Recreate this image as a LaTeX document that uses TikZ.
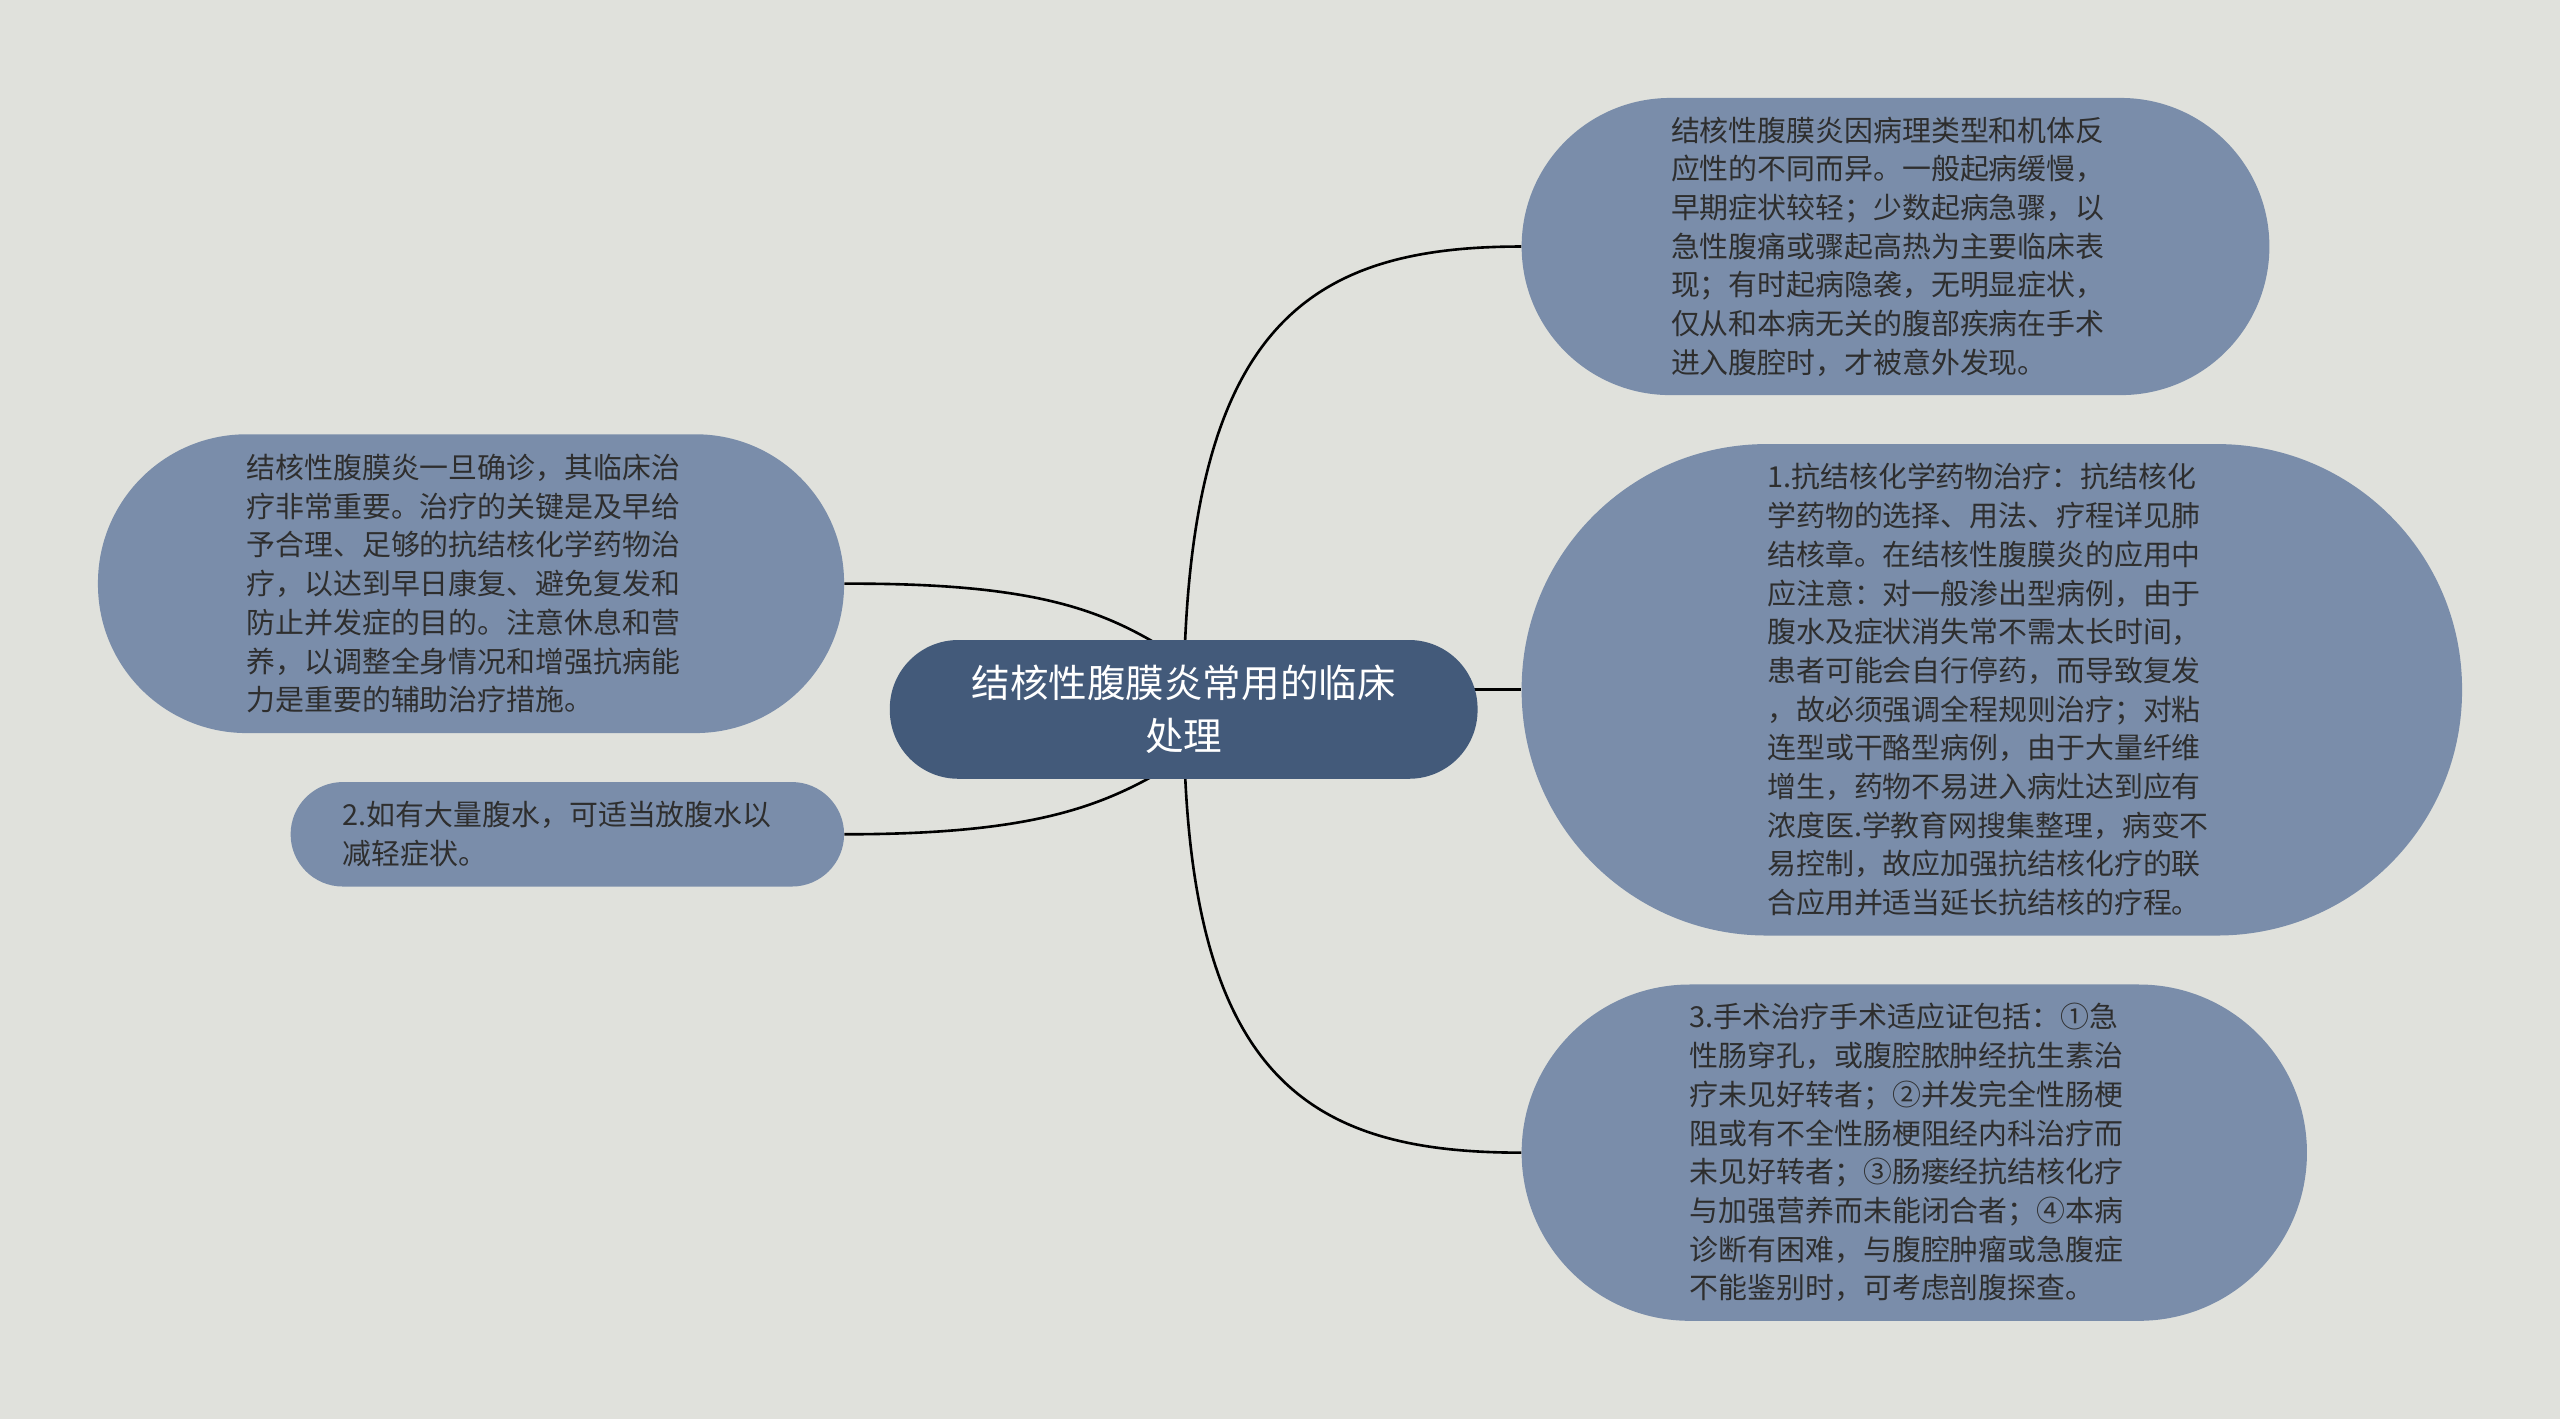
\documentclass[tikz,border=0pt]{standalone}
\usepackage{fontspec}
\setmainfont{Noto Sans CJK SC}
\usetikzlibrary{calc}
\definecolor{bgcol}{HTML}{E0E1DC}
\definecolor{rootcol}{HTML}{435A7A}
\definecolor{leafcol}{HTML}{7A8DAA}
\definecolor{txtcol}{HTML}{2E2E2E}
\pgfdeclarelayer{back}
\pgfsetlayers{back,main}

\begin{document}
\begin{tikzpicture}[x=1pt, y=-1pt,
	root/.style={fill=rootcol, text=white, align=center, inner sep=0pt,
		minimum width=360pt, minimum height=85pt, rounded corners=42pt,
		font=\fontsize{23.6}{32}\selectfont},
	leaf/.style={fill=leafcol, text=txtcol, align=left, inner sep=0pt,
		text width=275pt, font=\fontsize{17.7}{23.7}\selectfont},
	link/.style={line width=1.6pt}]
	\useasboundingbox (0,0) rectangle (1568,869);
	\node [root] (root) at (725,434.5) {结核性腹膜炎常用的临床\\处理};
	\node [leaf, minimum width=458pt, minimum height=182pt, rounded corners=91pt] (cause) at (1161,151)
		{结核性腹膜炎因病理类型和机体反\\应性的不同而异。一般起病缓慢，\\早期症状较轻；少数起病急骤，以\\急性腹痛或骤起高热为主要临床表\\现；有时起病隐袭，无明显症状，\\仅从和本病无关的腹部疾病在手术\\进入腹腔时，才被意外发现。};
	\node [leaf, minimum width=576pt, minimum height=301pt, rounded corners=150pt] (drug) at (1220,422.5)
		{1.抗结核化学药物治疗：抗结核化\\学药物的选择、用法、疗程详见肺\\结核章。在结核性腹膜炎的应用中\\应注意：对一般渗出型病例，由于\\腹水及症状消失常不需太长时间，\\患者可能会自行停药，而导致复发\\，故必须强调全程规则治疗；对粘\\连型或干酪型病例，由于大量纤维\\增生，药物不易进入病灶达到应有\\浓度医.学教育网搜集整理，病变不\\易控制，故应加强抗结核化疗的联\\合应用并适当延长抗结核的疗程。};
	\node [leaf, minimum width=481pt, minimum height=206pt, rounded corners=103pt] (surgery) at (1172.5,706)
		{3.手术治疗手术适应证包括：①急\\性肠穿孔，或腹腔脓肿经抗生素治\\疗未见好转者；②并发完全性肠梗\\阻或有不全性肠梗阻经内科治疗而\\未见好转者；③肠瘘经抗结核化疗\\与加强营养而未能闭合者；④本病\\诊断有困难，与腹腔肿瘤或急腹症\\不能鉴别时，可考虑剖腹探查。};
	\node [leaf, minimum width=457pt, minimum height=183pt, rounded corners=91pt] (principle) at (288.5,357.5)
		{结核性腹膜炎一旦确诊，其临床治\\疗非常重要。治疗的关键是及早给\\予合理、足够的抗结核化学药物治\\疗，以达到早日康复、避免复发和\\防止并发症的目的。注意休息和营\\养，以调整全身情况和增强抗病能\\力是重要的辅助治疗措施。};
	\node [leaf, minimum width=339pt, minimum height=64pt, rounded corners=32pt] (ascites) at (347.5,511)
		{2.如有大量腹水，可适当放腹水以\\减轻症状。};
	\begin{pgfonlayer}{back}
		\fill [bgcol] (0,0) rectangle (1568,869);
		\draw [link] (root.center) .. controls (725,200) and (800,151) .. (cause.west);
		\draw [link] (root.center |- drug.west) -- (drug.west);
		\draw [link] (root.center) .. controls (725,660) and (800,706) .. (surgery.west);
		\draw [link] (principle.east) .. controls (640,357) and (680,375) .. ($(root.north)+(0,13)$);
		\draw [link] (ascites.east) .. controls (640,511) and (680,492) .. ($(root.south)+(0,-13)$);
	\end{pgfonlayer}
\end{tikzpicture}
\end{document}
